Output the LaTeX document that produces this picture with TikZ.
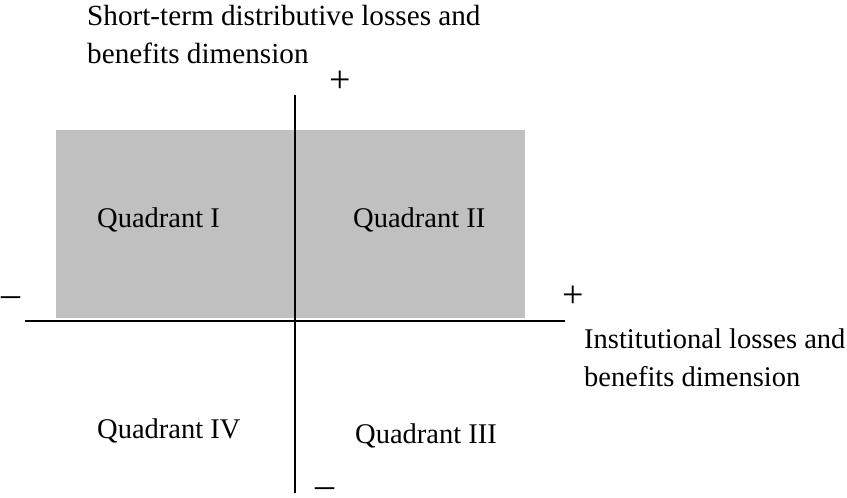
\documentclass[tikz,border=0pt]{standalone}
\usepackage{fontspec}
\setmainfont{Liberation Serif}
\tikzset{
  lbl/.style={inner sep=0pt, anchor=base west, font=\fontsize{28.5}{38}\selectfont, align=left},
  sign/.style={inner sep=0pt, font=\fontsize{38}{40}\selectfont},
  axis/.style={line width=2pt, black},
}
\begin{document}
\begin{tikzpicture}[x=1pt, y=-1pt]
\useasboundingbox (0,0) rectangle (847,498);
\fill[fill={rgb,255:red,192;green,192;blue,192}] (56,130) rectangle (525,318);
\coordinate (vtop) at (295,95);
\coordinate (vbot) at (295,493);
\coordinate (hl) at (25,321);
\coordinate (hr) at (565,321);
\draw[axis] (vtop) -- (vbot);
\draw[axis] (hl) -- (hr);
\node[lbl, font=\fontsize{29.2}{38}\selectfont] (ytitle) at (87,63) {Short-term distributive losses and\\benefits dimension};
\node[lbl] (xtitle) at (584,386) {Institutional losses and\\benefits dimension};
\node[lbl] (q1) at (97,227) {Quadrant I};
\node[lbl] (q2) at (353,227) {Quadrant II};
\node[lbl] (q4) at (97,438) {Quadrant IV};
\node[lbl] (q3) at (355,443) {Quadrant III};
\node[sign] (ptop) at (340,82) {+};
\node[sign] (pright) at (573,297) {+};
\node[sign, anchor=base] (mleft) at (11,306) {–};
\node[sign, anchor=base] (mbot) at (325,497) {–};
\end{tikzpicture}
\end{document}
